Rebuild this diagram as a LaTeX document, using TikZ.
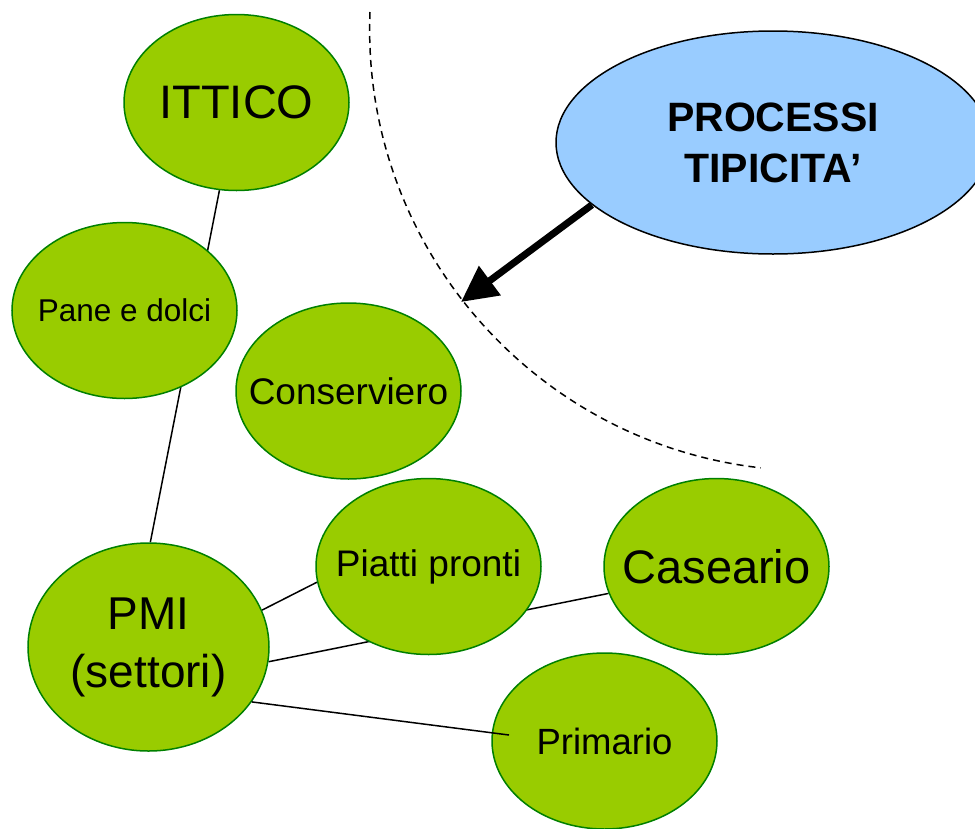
\documentclass[tikz,border=0pt]{standalone}
\usepackage{fontspec}
\setmainfont{Liberation Sans}
\usetikzlibrary{shapes.geometric,arrows.meta,backgrounds}
\definecolor{leafgreen}{RGB}{153,204,0}
\definecolor{darkleaf}{RGB}{0,128,0}
\definecolor{skyblue}{RGB}{153,204,255}
\newcommand{\fsz}[2]{\fontsize{#1}{#2}\selectfont}
\tikzset{
    sector/.style={ellipse, draw=darkleaf, fill=leafgreen, line width=1.5pt,
        minimum width=225pt, minimum height=176pt, inner xsep=-25pt, inner ysep=0pt, align=center},
    link/.style={line width=1.5pt}
}
\begin{document}
\begin{tikzpicture}[x=1pt, y=-1pt]
        \useasboundingbox (0,0) rectangle (975,828);
        \node[sector, font=\fsz{47}{56}] (ittico) at (236.5, 102.5) {ITTICO};
        \node[sector, font=\fsz{31.5}{38}] (pane) at (124.5, 310.5) {Pane e dolci};
        \node[sector, font=\fsz{37}{44}] (conserv) at (348.5, 391) {Conserviero};
        \node[sector, font=\fsz{37}{44}] (piatti) at (428.5, 566.5) {Piatti pronti};
        \node[sector, font=\fsz{47}{56}] (caseario) at (716.5, 566.5) {Caseario};
        \node[sector, font=\fsz{36.5}{44}] (primario) at (604.5, 741) {Primario};
        \node[sector, minimum width=241pt, minimum height=208pt, font=\fsz{46}{58}] (pmi) at (148.5, 647) {PMI\\(settori)};
        \node[ellipse, draw, fill=skyblue, line width=1.5pt, minimum width=434pt, minimum height=223pt,
            inner sep=0pt, align=center, font=\fsz{41}{51}\bfseries] (proc) at (773, 142.5) {PROCESSI\\TIPICITA’};
        \begin{scope}[on background layer]
            % ittico to pmi, behind pane e dolci
            \draw[link] (ittico.259) -- (pmi.89);
            % pmi to piatti pronti
            \draw[link] (pmi.18) -- (piatti.188);
            % pmi to caseario, behind piatti pronti
            \draw[link] (pmi.-7) -- (caseario.194);
        \end{scope}
        % pmi to primario, over the node
        \coordinate (primend) at (509, 735);
        \draw[link] (pmi.-28) -- (primend);
        % border of the tipicita area
        \draw[line width=1.5pt, dash pattern=on 7pt off 5pt] (370, 12) arc[start angle=182.3, end angle=96.5, radius=441];
        % arrow from processi
        \coordinate (arrowtip) at (461, 302);
        \draw[line width=7pt, -{Triangle[length=36pt, width=35pt]}] (proc.199) -- (arrowtip);
    \end{tikzpicture}
\end{document}
